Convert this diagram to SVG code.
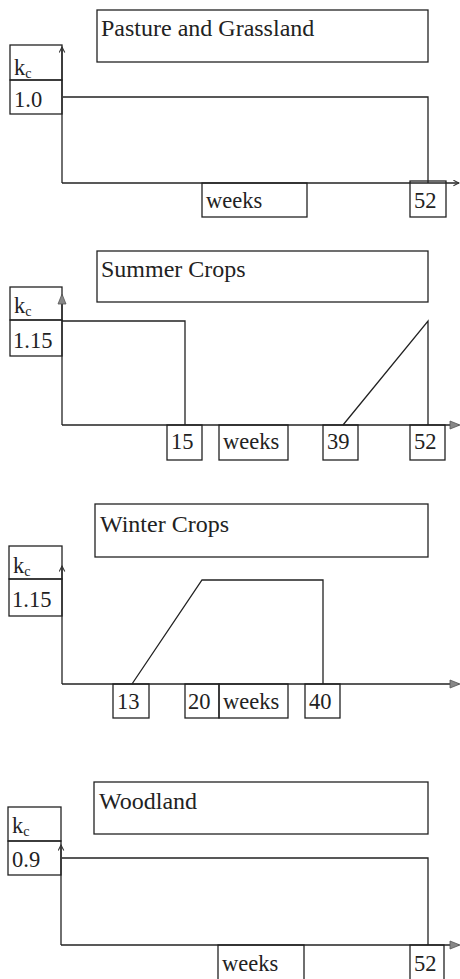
<svg xmlns="http://www.w3.org/2000/svg" width="460" height="979" viewBox="0 0 460 979">
<defs>
<style>
.bx{fill:none;stroke:#222;stroke-width:1.3}
.ln{fill:none;stroke:#222;stroke-width:1.3}
.t{font-family:"Liberation Serif","Times New Roman",serif;font-size:22.5px;fill:#222}
.tt{font-family:"Liberation Serif","Times New Roman",serif;font-size:24px;fill:#222}
.s{font-size:14px}
</style>
<marker id="ao" viewBox="0 0 10 10" refX="9" refY="5" markerWidth="7" markerHeight="7" orient="auto" markerUnits="userSpaceOnUse"><path d="M1,1 L9,5 L1,9" fill="none" stroke="#333" stroke-width="1.5"/></marker>
<marker id="af" viewBox="0 0 10 10" refX="9" refY="5" markerWidth="12" markerHeight="10" orient="auto" markerUnits="userSpaceOnUse"><path d="M0,1 L10,5 L0,9 Z" fill="#888" stroke="#555" stroke-width="0.8"/></marker>
</defs>

<!-- Panel 1: Pasture and Grassland -->
<g id="p1-title"><rect class="bx" x="97" y="10" width="331" height="52"/><text class="tt" x="101" y="36">Pasture and Grassland</text></g>
<g id="p1-kc"><rect class="bx" x="10" y="45" width="52" height="35"/><text class="t" x="14" y="75">k<tspan class="s" dy="3">c</tspan></text></g>
<g id="p1-val"><rect class="bx" x="10" y="80" width="52" height="34"/><text class="t" x="14" y="107">1.0</text></g>
<g id="p1-weeks"><rect class="bx" x="202" y="183" width="105" height="34"/><text class="t" x="206" y="208">weeks</text></g>
<g id="p1-52"><rect class="bx" x="410" y="181" width="36" height="36"/><text class="t" x="414" y="208">52</text></g>

<!-- Panel 2: Summer Crops -->
<g id="p2-title"><rect class="bx" x="97" y="251" width="331" height="51"/><text class="tt" x="101" y="277">Summer Crops</text></g>
<g id="p2-kc"><rect class="bx" x="10" y="287" width="52" height="33"/><text class="t" x="14" y="313">k<tspan class="s" dy="3">c</tspan></text></g>
<g id="p2-val"><rect class="bx" x="10" y="320" width="52" height="36"/><text class="t" x="13" y="348">1.15</text></g>
<g id="p2-15"><rect class="bx" x="167" y="425" width="35" height="35"/><text class="t" x="171" y="449">15</text></g>
<g id="p2-weeks"><rect class="bx" x="219" y="425" width="69" height="35"/><text class="t" x="223" y="449">weeks</text></g>
<g id="p2-39"><rect class="bx" x="323" y="425" width="35" height="35"/><text class="t" x="327" y="449">39</text></g>
<g id="p2-52"><rect class="bx" x="410" y="425" width="35" height="35"/><text class="t" x="414" y="449">52</text></g>

<!-- Panel 3: Winter Crops -->
<g id="p3-title"><rect class="bx" x="95" y="504" width="333" height="53"/><text class="tt" x="100" y="532">Winter Crops</text></g>
<g id="p3-kc"><rect class="bx" x="9" y="546" width="53" height="33"/><text class="t" x="13" y="573">k<tspan class="s" dy="3">c</tspan></text></g>
<g id="p3-val"><rect class="bx" x="9" y="579" width="53" height="37"/><text class="t" x="12" y="607">1.15</text></g>
<g id="p3-13"><rect class="bx" x="113" y="684" width="36" height="34"/><text class="t" x="117" y="709">13</text></g>
<g id="p3-20"><rect class="bx" x="185" y="684" width="34" height="34"/><text class="t" x="188" y="709">20</text></g>
<g id="p3-weeks"><rect class="bx" x="219" y="684" width="69" height="34"/><text class="t" x="223" y="709">weeks</text></g>
<g id="p3-40"><rect class="bx" x="305" y="684" width="35" height="34"/><text class="t" x="309" y="709">40</text></g>

<!-- Panel 4: Woodland -->
<g id="p4-title"><rect class="bx" x="94" y="782" width="334" height="52"/><text class="tt" x="99" y="809">Woodland</text></g>
<g id="p4-kc"><rect class="bx" x="8" y="807" width="53" height="34"/><text class="t" x="12" y="833">k<tspan class="s" dy="3">c</tspan></text></g>
<g id="p4-val"><rect class="bx" x="8" y="841" width="53" height="34"/><text class="t" x="12" y="867">0.9</text></g>
<g id="p4-weeks"><rect class="bx" x="218" y="945" width="86" height="40"/><text class="t" x="222" y="971">weeks</text></g>
<g id="p4-52"><rect class="bx" x="410" y="945" width="34" height="40"/><text class="t" x="414" y="971">52</text></g>

<g id="connectors">
<!-- panel 1 -->
<path class="ln" d="M62,183 L62,47" marker-end="url(#ao)"/>
<path class="ln" d="M62,183 L459,183" marker-end="url(#ao)"/>
<path class="ln" d="M63,97 L428,97 L428,183"/>
<!-- panel 2 -->
<path class="ln" d="M62,425 L62,295" marker-end="url(#af)"/>
<path class="ln" d="M62,425 L459,425" marker-end="url(#af)"/>
<path class="ln" d="M62,321 L185,321 L185,425"/>
<path class="ln" d="M343,425 L428,321 L428,425"/>
<!-- panel 3 -->
<path class="ln" d="M62,684 L62,566" marker-end="url(#ao)"/>
<path class="ln" d="M62,684 L459,684" marker-end="url(#af)"/>
<path class="ln" d="M132,684 L202,580 L323,580 L323,684"/>
<!-- panel 4 -->
<path class="ln" d="M61,945 L61,845" marker-end="url(#ao)"/>
<path class="ln" d="M61,945 L459,945" marker-end="url(#af)"/>
<path class="ln" d="M62,858 L428,858 L428,945"/>
</g>
</svg>
